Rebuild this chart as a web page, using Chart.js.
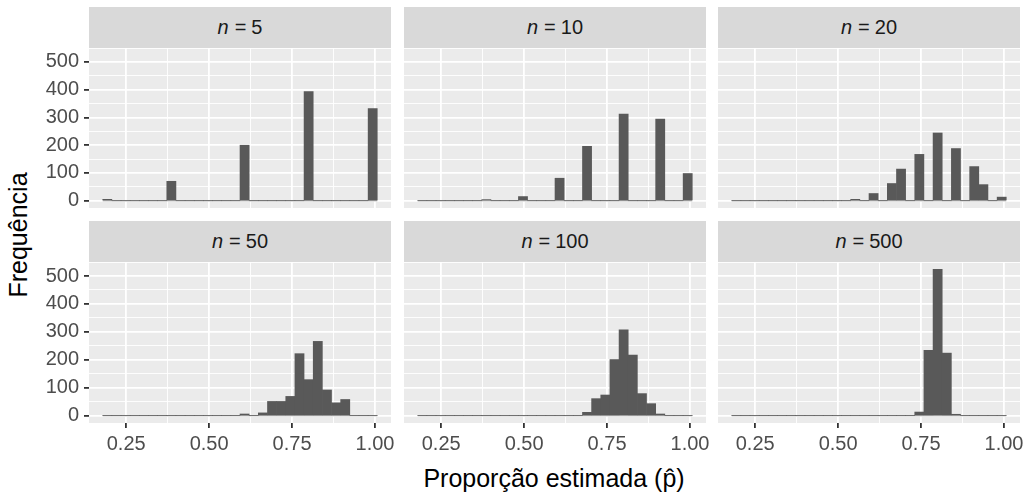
<!DOCTYPE html>
<html>
<head>
<meta charset="utf-8">
<script src="https://cdn.jsdelivr.net/npm/chart.js@4"></script>
<style>
  body { margin: 0; background: #fff; width: 1027px; height: 493px; position: relative; overflow: hidden;
         font-family: "Liberation Sans", Arial, sans-serif; }
  canvas { position: absolute; }
  .strip { position: absolute; background: #d9d9d9; color: #1a1a1a; font-size: 20px;
           display: flex; align-items: center; justify-content: center; white-space: pre; }
  .strip i { margin-right: 6px; }
  .strip b { font-weight: normal; margin-right: 5px; }
  .title { position: absolute; color: #000; font-size: 25px; white-space: nowrap; transform: translate(-50%, -50%); }
  #ytitle { left: 18px; top: 235px; transform: translate(-50%, -50%) rotate(-90deg); }
  #xtitle { left: 554px; top: 478px; }
</style>
</head>
<body>
<div id="ytitle" class="title">Frequência</div>
<div id="xtitle" class="title">Proporção estimada (p̂)</div>
<script>
// bin centres of the 30-bin histogram (shared by all facets)
const binCenters = [
  0.1931, 0.2207, 0.2483, 0.2759, 0.3034, 0.3310, 0.3586, 0.3862, 0.4138, 0.4414,
  0.4690, 0.4966, 0.5241, 0.5517, 0.5793, 0.6069, 0.6345, 0.6621, 0.6897, 0.7172,
  0.7448, 0.7724, 0.8000, 0.8276, 0.8552, 0.8828, 0.9103, 0.9379, 0.9655, 0.9931
];
const binWidth = 0.8 / 29;

const sampleSizes = ['5', '10', '20', '50', '100', '500'];

const counts5 = [5,0,0,0,0,0,0,70,0,0, 0,0,0,0,0,200,0,0,0,0, 0,0,393,0,0,0,0,0,0,332];
const counts10 = [0,0,0,0,0,0,0,4,0,0, 0,15,0,0,0,81,0,0,196,0, 0,0,312,0,0,0,294,0,0,98];
const counts20 = [0,0,0,0,0,0,0,0,0,0, 0,0,0,5,0,26,0,62,114,0, 167,0,244,0,188,0,123,58,0,13];
const counts50 = [0,0,0,0,0,0,0,0,0,0, 0,0,0,0,0,6,0,10,51,51, 69,222,129,266,92,46,58,0,0,0];
const counts100 = [0,0,0,0,0,0,0,0,0,0, 0,0,0,0,0,0,0,0,12,61, 74,201,307,217,79,43,6,0,0,0];
const counts500 = [0,0,0,0,0,0,0,0,0,0, 0,0,0,0,0,0,0,0,0,0, 13,234,524,224,5,0,0,0,0,0];

const xBreaks = [0.25, 0.5, 0.75, 1.0];
const xMinor = [0.375, 0.625, 0.875];
const yBreaks = [0, 100, 200, 300, 400, 500];
const yMinor = [50, 150, 250, 350, 450, 550];

const allCounts = [counts5, counts10, counts20, counts50, counts100, counts500];

// ggplot-like limits: 5% expansion around the data
const xEdgeLo = binCenters[0] - binWidth / 2;
const xEdgeHi = binCenters[binCenters.length - 1] + binWidth / 2;
const xPad = (xEdgeHi - xEdgeLo) * 0.05;
const yMaxData = Math.max(...allCounts.flat());
const yPad = yMaxData * 0.05;

// page layout
const colLeft = [89, 404, 718];
const panelW = 302;
const rowTop = [48, 262];
const stripTop = [7, 221];
const panelH = [160, 161];
const rightExtra = 14;
const xAxisH = 34;
const yAxisW = 89;

const FONT = '"Liberation Sans", Arial, sans-serif';
Chart.defaults.font.family = FONT;

const panelBg = {
  id: 'panelBg',
  beforeDraw(chart) {
    const { ctx, chartArea: a } = chart;
    ctx.save();
    ctx.fillStyle = '#ebebeb';
    ctx.fillRect(a.left, a.top, a.width, a.height);
    ctx.restore();
  }
};

const isIn = (arr, v) => arr.some(b => Math.abs(b - v) < 1e-9);

function makePanel(idx) {
  const r = Math.floor(idx / 3), c = idx % 3;
  const counts = allCounts[idx];

  const strip = document.createElement('div');
  strip.className = 'strip';
  strip.style.left = colLeft[c] + 'px';
  strip.style.top = stripTop[r] + 'px';
  strip.style.width = panelW + 'px';
  strip.style.height = (rowTop[r] - stripTop[r]) + 'px';
  strip.innerHTML = '<i>n</i><b>=</b>' + sampleSizes[idx];
  document.body.append(strip);

  const left = c === 0 ? 0 : colLeft[c];
  const w = colLeft[c] + panelW + rightExtra - left;
  const h = panelH[r] + (r === 1 ? xAxisH : 0);
  const canvas = document.createElement('canvas');
  canvas.width = w;
  canvas.height = h;
  canvas.style.left = left + 'px';
  canvas.style.top = rowTop[r] + 'px';
  document.body.append(canvas);

  new Chart(canvas.getContext('2d'), {
    type: 'bar',
    data: {
      datasets: [
        {
          type: 'bar',
          data: binCenters.map((x, i) => ({ x, y: counts[i] })),
          backgroundColor: '#595959',
          borderWidth: 0,
          barPercentage: 1,
          categoryPercentage: 1,
          order: 0
        },
        {
          type: 'line',
          data: [{ x: xEdgeLo, y: 0 }, { x: xEdgeHi, y: 0 }],
          borderColor: '#8c8c8c',
          borderWidth: 1,
          pointRadius: 0,
          order: 1
        }
      ]
    },
    options: {
      responsive: false,
      animation: false,
      devicePixelRatio: 1,
      layout: { padding: { left: 0, top: 0, right: rightExtra, bottom: 0 } },
      plugins: { legend: { display: false }, tooltip: { enabled: false } },
      scales: {
        x: {
          type: 'linear',
          min: xEdgeLo - xPad,
          max: xEdgeHi + xPad,
          offset: false,
          afterBuildTicks: s => {
            s.ticks = [...xBreaks, ...xMinor].sort((a, b) => a - b).map(v => ({ value: v }));
          },
          afterFit: s => {
            s.height = r === 1 ? xAxisH : 0;
            s.paddingLeft = 0; s.paddingRight = 0;
          },
          ticks: {
            display: r === 1,
            autoSkip: false,
            maxRotation: 0,
            minRotation: 0,
            padding: 4,
            color: '#4d4d4d',
            font: { size: 20 },
            callback: v => isIn(xBreaks, v) ? v.toFixed(2) : ''
          },
          grid: {
            offset: false,
            color: '#ffffff',
            lineWidth: ctx => ctx.tick && isIn(xBreaks, ctx.tick.value) ? 1.8 : 0.9,
            drawTicks: r === 1,
            tickLength: 5,
            tickWidth: 1.8,
            tickColor: ctx => ctx.tick && isIn(xBreaks, ctx.tick.value) ? '#333333' : 'rgba(0,0,0,0)'
          },
          border: { display: false }
        },
        y: {
          type: 'linear',
          min: -yPad,
          max: yMaxData + yPad,
          afterBuildTicks: s => {
            s.ticks = [...yBreaks, ...yMinor].sort((a, b) => a - b).map(v => ({ value: v }));
          },
          afterFit: s => {
            s.width = c === 0 ? yAxisW : 0;
            s.paddingTop = 0; s.paddingBottom = 0;
          },
          ticks: {
            display: c === 0,
            autoSkip: false,
            padding: 5,
            color: '#4d4d4d',
            font: { size: 20 },
            callback: v => isIn(yBreaks, v) ? String(v) : ''
          },
          grid: {
            color: '#ffffff',
            lineWidth: ctx => ctx.tick && isIn(yBreaks, ctx.tick.value) ? 1.8 : 0.9,
            drawTicks: c === 0,
            tickLength: 5,
            tickWidth: 1.8,
            tickColor: ctx => ctx.tick && isIn(yBreaks, ctx.tick.value) ? '#333333' : 'rgba(0,0,0,0)'
          },
          border: { display: false }
        }
      }
    },
    plugins: [panelBg]
  });
}

for (let i = 0; i < 6; i++) makePanel(i);
</script>
</body>
</html>
